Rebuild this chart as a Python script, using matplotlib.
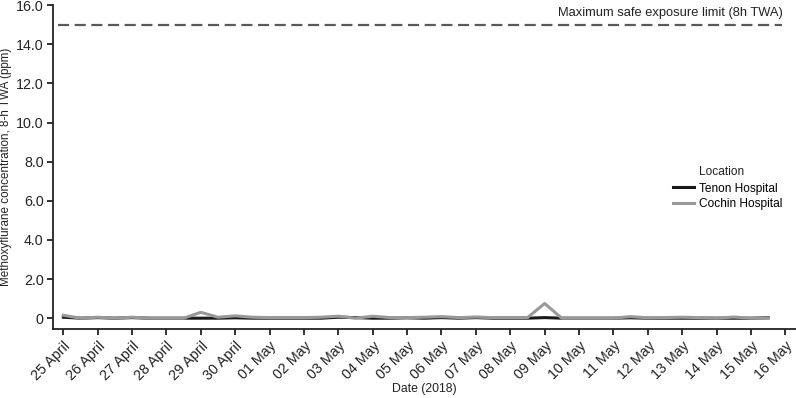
import matplotlib
matplotlib.use("Agg")
import matplotlib.pyplot as plt
import matplotlib.ticker as mticker
import numpy as np
import pandas as pd

plt.rcParams["font.family"] = ["Liberation Sans", "DejaVu Sans"]

# ---------------------------------------------------------------------------
# Data (half-day sampling)
# ---------------------------------------------------------------------------
times = pd.date_range("2018-04-25 00:00", "2018-05-15 21:00", freq="12h")

tenon = [0.05, 0.00, 0.03, 0.00, 0.03, 0.00, 0.00, 0.00, 0.00, 0.00,
         0.02, 0.00, 0.00, 0.00, 0.00, 0.00, 0.05, 0.03, 0.00, 0.00,
         0.02, 0.00, 0.03, 0.00, 0.03, 0.00, 0.00, 0.00, 0.03, 0.00,
         0.00, 0.00, 0.00, 0.02, 0.00, 0.00, 0.00, 0.00, 0.00, 0.00,
         0.00, 0.02]

cochin = [0.15, 0.00, 0.05, 0.00, 0.05, 0.00, 0.00, 0.00, 0.30, 0.05,
          0.12, 0.05, 0.03, 0.03, 0.03, 0.05, 0.10, 0.00, 0.10, 0.03,
          0.03, 0.05, 0.08, 0.03, 0.06, 0.03, 0.03, 0.03, 0.75, 0.00,
          0.00, 0.00, 0.00, 0.08, 0.02, 0.03, 0.05, 0.03, 0.00, 0.06,
          0.00, 0.00]

limit_ppm = 15.0
limit_label = "Maximum safe exposure limit (8h TWA)"

tick_days = pd.date_range("2018-04-25", "2018-05-16", freq="D")
tick_labels = [d.strftime("%d ") + ("April" if d.month == 4 else "May") for d in tick_days]

# ---------------------------------------------------------------------------
# Plot
# ---------------------------------------------------------------------------
INK = "#222222"

fig = plt.figure(figsize=(7.96, 3.98), dpi=100)
ax = fig.add_axes([0.067, 0.173, 0.933, 0.814])

ax.plot(times, tenon, color="#1a1a1a", lw=2.2, label="Tenon Hospital", zorder=2)
ax.plot(times, cochin, color="#999999", lw=2.2, label="Cochin Hospital", zorder=3)

x0 = pd.Timestamp("2018-04-24 20:00")
x1 = pd.Timestamp("2018-05-15 22:00")
ax.plot([x0, x1], [limit_ppm, limit_ppm], color="#5a5a5a", lw=1.6,
        dashes=(5, 2.5))
ax.text(x1, limit_ppm + 0.3, limit_label, ha="right", va="bottom",
        fontsize=9.3, color=INK)

ax.set_xlim(pd.Timestamp("2018-04-24 17:00"), pd.Timestamp("2018-05-16 07:30"))
ax.set_ylim(-0.56, 16.0)
ax.set_yticks(np.arange(0, 16.1, 2.0))
ax.yaxis.set_major_formatter(
    mticker.FuncFormatter(lambda v, p: "0" if v == 0 else f"{v:.1f}"))
ax.set_xticks(tick_days)
ax.set_xticklabels(tick_labels, rotation=45, ha="right", rotation_mode="anchor")

for side in ("top", "right"):
    ax.spines[side].set_visible(False)
for side in ("left", "bottom"):
    ax.spines[side].set_linewidth(1.3)
    ax.spines[side].set_color(INK)
ax.tick_params(axis="both", labelsize=10.3, width=1.3, length=4.5, colors=INK,
               pad=2.5)

ax.set_ylabel("Methoxyflurane concentration, 8-h TWA (ppm)", fontsize=8.4,
              color=INK, labelpad=3)
ax.set_xlabel("Date (2018)", fontsize=8.8, color=INK, labelpad=0)

leg = ax.legend(loc="center left", bbox_to_anchor=(0.835, 0.41),
                frameon=False, fontsize=8.6, handlelength=1.7,
                handletextpad=0.4, labelspacing=0.3, borderaxespad=0,
                borderpad=0)

# legend title aligned with the entry labels, not the handles
fig.canvas.draw()
bb = leg.get_texts()[0].get_window_extent()
fx, fy = fig.transFigure.inverted().transform((bb.x0, bb.y1))
fig.text(fx, fy + 0.012, "Location", fontsize=8.6, color=INK,
         ha="left", va="bottom")

fig.savefig("out.png", dpi=100)
